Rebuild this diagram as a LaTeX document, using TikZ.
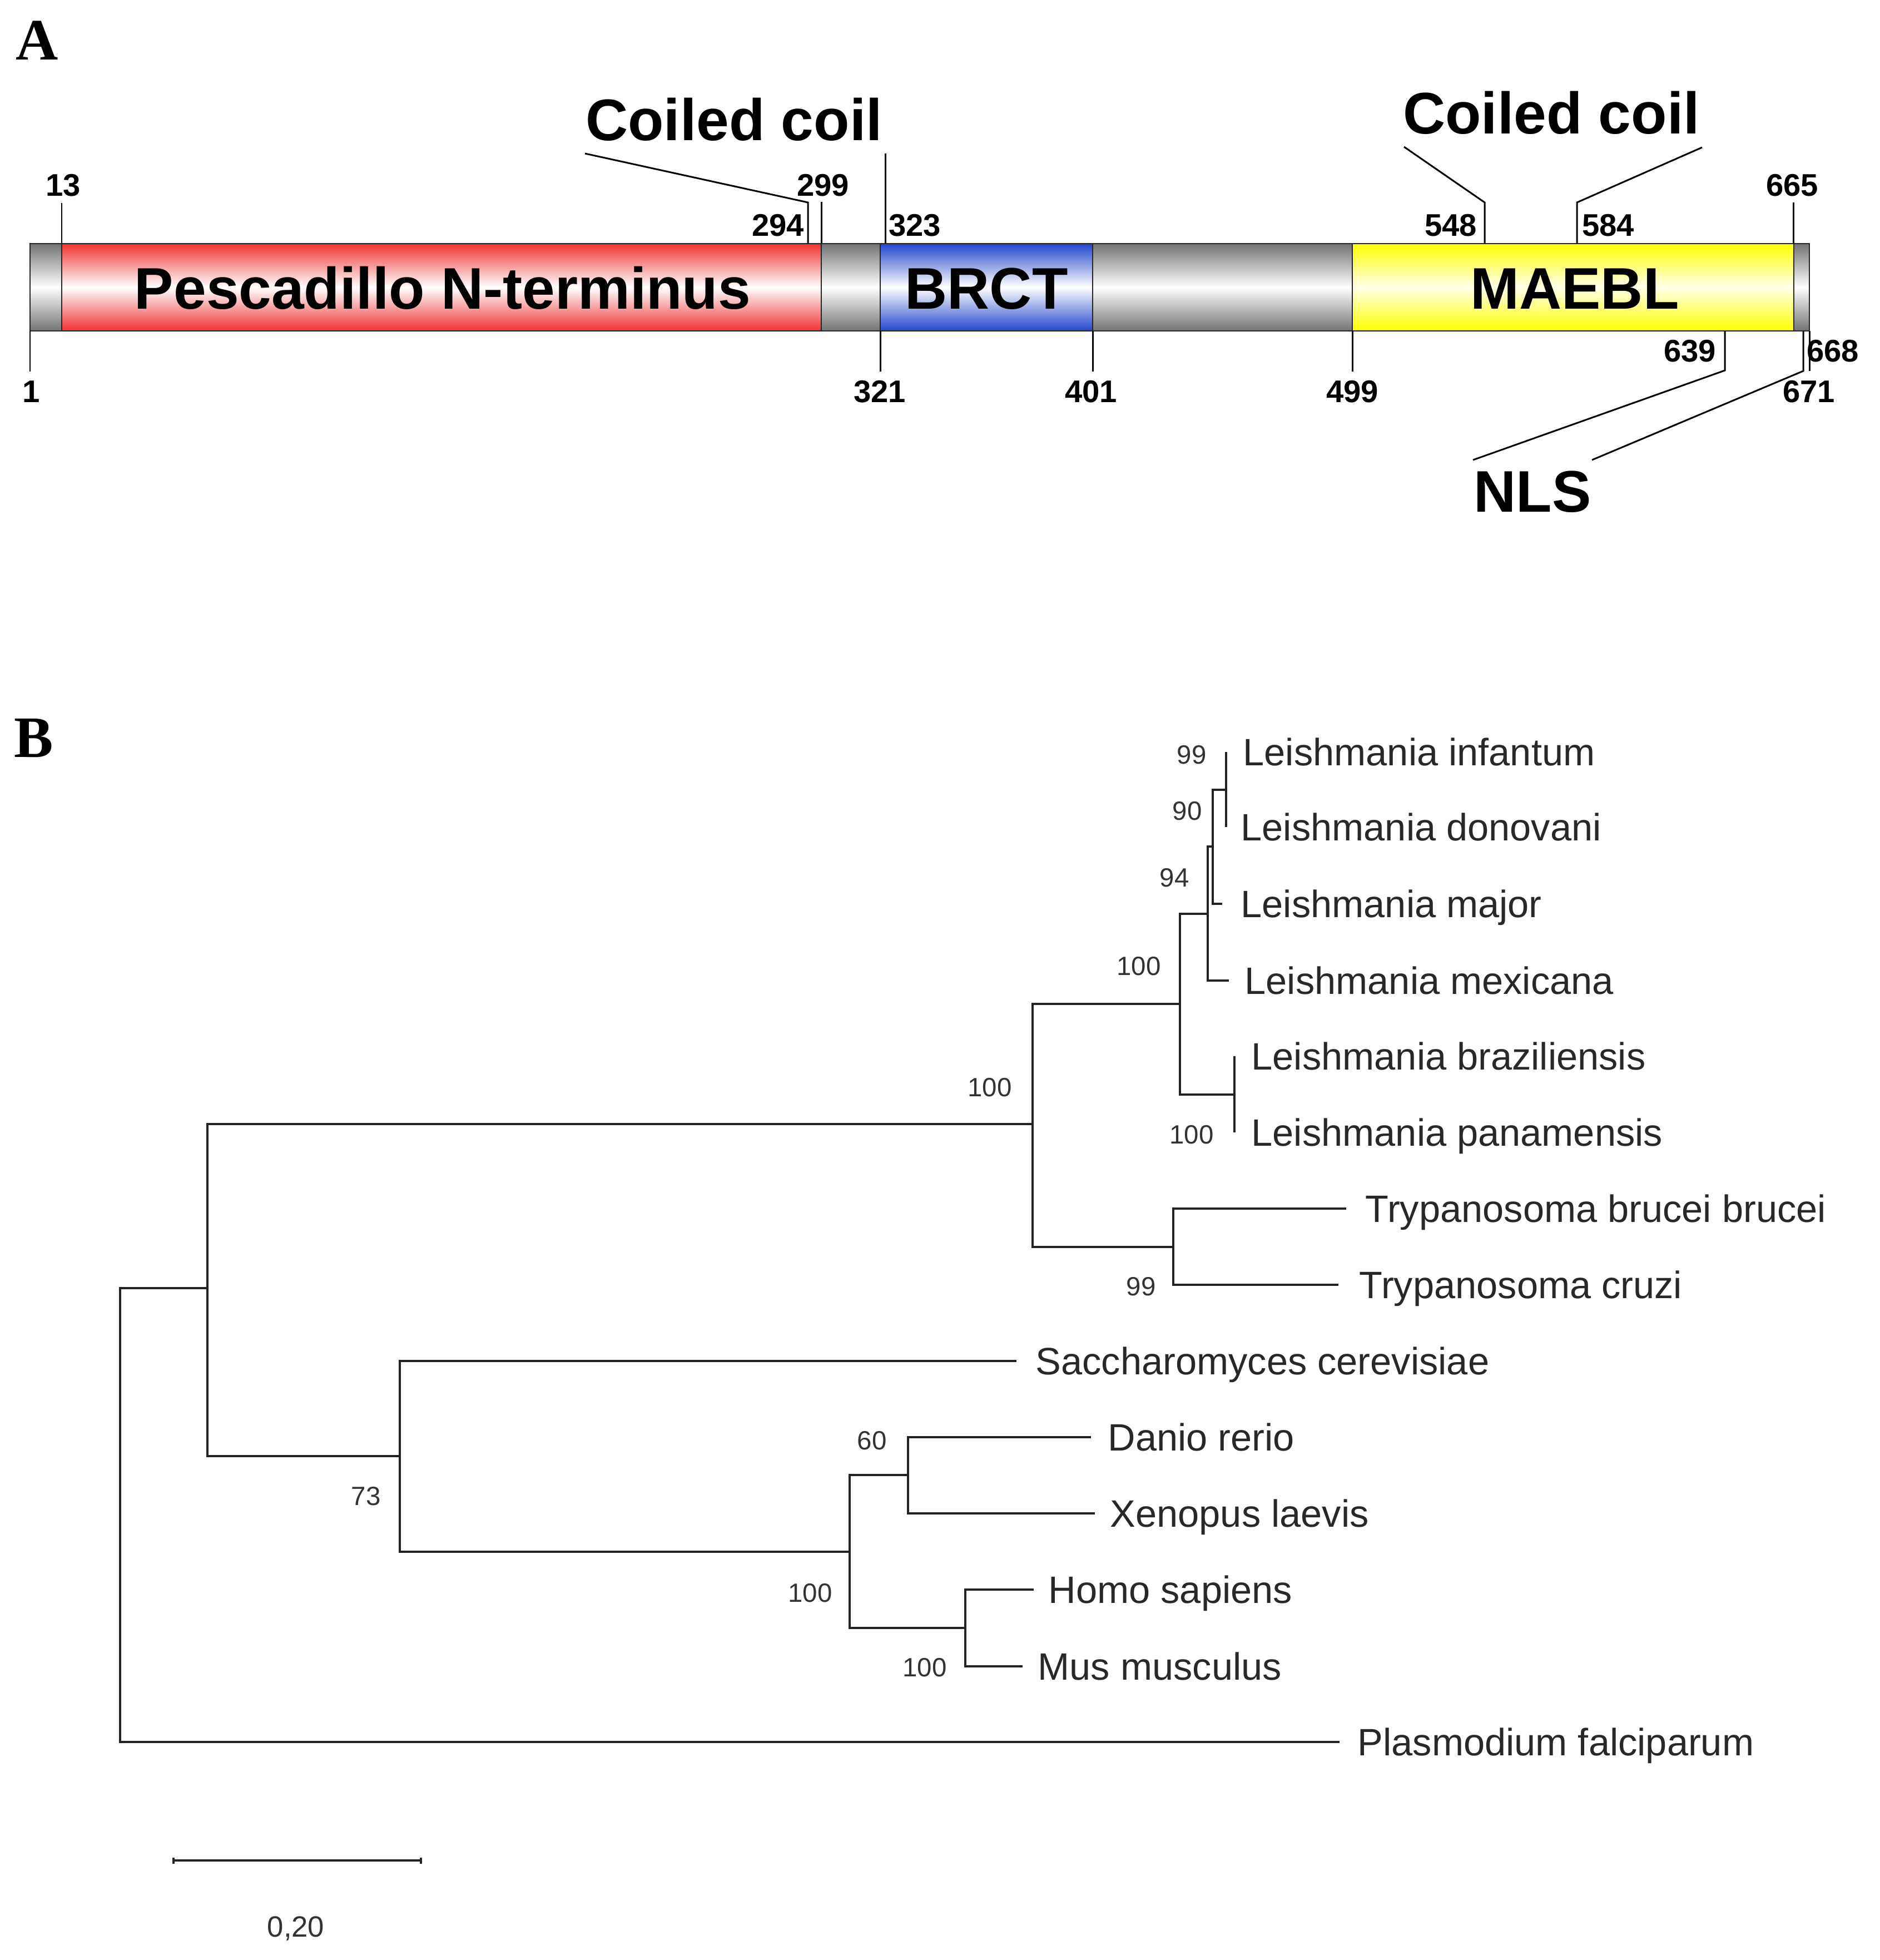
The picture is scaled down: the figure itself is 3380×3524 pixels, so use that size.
\documentclass[tikz,border=0pt]{standalone}
\usepackage{fontspec}
\setmainfont{Liberation Sans}
\newfontfamily\panelfont{Liberation Serif}
\definecolor{segred}{RGB}{240,50,50}
\definecolor{seggray}{RGB}{115,115,115}
\definecolor{segblue}{RGB}{34,70,205}
\definecolor{segyellow}{RGB}{255,255,0}
\definecolor{treeline}{RGB}{35,35,35}
\definecolor{treetext}{RGB}{40,40,40}
\tikzset{
  seg/.style={draw=black!85, line width=0.8pt},
  lead/.style={draw=black, line width=0.85pt},
  panel/.style={font=\panelfont\bfseries\fontsize{30}{31}\selectfont, inner sep=0pt, text height=20pt, text depth=0pt},
  big/.style={font=\bfseries\fontsize{30}{31}\selectfont, inner sep=0pt, text height=21.5pt, text depth=0pt},
  num/.style={font=\bfseries\fontsize{16}{17}\selectfont, inner sep=0pt, text height=11.5pt, text depth=0pt},
  leaf/.style={font=\fontsize{19.5}{20}\selectfont, text=treetext, anchor=west, inner sep=0pt, text height=14pt, text depth=0pt},
  boot/.style={font=\fontsize{13.5}{14}\selectfont, text=black!80, inner sep=0pt, text height=9.6pt, text depth=0pt},
  branch/.style={draw=treeline, line width=1.25pt},
}
\begin{document}
\begin{tikzpicture}[x=0.01cm,y=-0.01cm]
\useasboundingbox (0,0) rectangle (3380,3524);

% ---------------- Panel labels
\node[panel] (lblA) at (67,72) {A};
\node[panel] (lblB) at (61,1326) {B};

% ---------------- Panel A: domain bar
\shadedraw[seg, top color=seggray, bottom color=seggray, middle color=white] (54,438) rectangle (111,595);
\shadedraw[seg, top color=segred, bottom color=segred, middle color=white] (111,438) rectangle (1477,595);
\shadedraw[seg, top color=seggray, bottom color=seggray, middle color=white] (1477,438) rectangle (1583,595);
\shadedraw[seg, top color=segblue, bottom color=segblue, middle color=white] (1583,438) rectangle (1965,595);
\shadedraw[seg, top color=seggray, bottom color=seggray, middle color=white] (1965,438) rectangle (2432,595);
\shadedraw[seg, top color=segyellow, bottom color=segyellow, middle color=yellow!8] (2432,438) rectangle (3226,595);
\shadedraw[seg, top color=seggray, bottom color=seggray, middle color=white] (3226,438) rectangle (3254,595);

\node[big] (pesc) at (796,518) {Pescadillo N-terminus};
\node[big] (brct) at (1774,518) {BRCT};
\node[big] (maebl) at (2832,518) {MAEBL};

% top lead lines
\coordinate (b13) at (111,438);  \coordinate (e13) at (111,365);
\coordinate (b294) at (1453,438); \coordinate (k294) at (1453,364); \coordinate (c1a) at (1052,276);
\coordinate (b299) at (1477,438); \coordinate (e299) at (1477,363);
\coordinate (b323) at (1592,438); \coordinate (c1b) at (1592,276);
\coordinate (b548) at (2670,438); \coordinate (k548) at (2670,364); \coordinate (c2a) at (2525,264);
\coordinate (b584) at (2836,438); \coordinate (k584) at (2836,364); \coordinate (c2b) at (3061,265);
\coordinate (b665) at (3225,438); \coordinate (e665) at (3225,364);
\draw[lead] (b13) -- (e13);
\draw[lead] (b294) -- (k294) -- (c1a);
\draw[lead] (b299) -- (e299);
\draw[lead] (b323) -- (c1b);
\draw[lead] (b548) -- (k548) -- (c2a);
\draw[lead] (b584) -- (k584) -- (c2b);
\draw[lead] (b665) -- (e665);

% bottom lead lines
\coordinate (b1) at (54,595);     \coordinate (e1) at (54,668);
\coordinate (b321) at (1583,595); \coordinate (e321) at (1583,668);
\coordinate (b401) at (1965,595); \coordinate (e401) at (1965,668);
\coordinate (b499) at (2432,595); \coordinate (e499) at (2432,668);
\coordinate (b639) at (3102,595); \coordinate (k639) at (3102,666); \coordinate (na) at (2649,827);
\coordinate (b668) at (3243,595); \coordinate (k668) at (3243,667); \coordinate (nb) at (2863,827);
\coordinate (b671) at (3254,595); \coordinate (e671) at (3254,667);
\draw[lead] (b1) -- (e1);
\draw[lead] (b321) -- (e321);
\draw[lead] (b401) -- (e401);
\draw[lead] (b499) -- (e499);
\draw[lead] (b639) -- (k639) -- (na);
\draw[lead] (b668) -- (k668) -- (nb);
\draw[lead] (b671) -- (e671);

% labels panel A
\node[big] (cc1) at (1320,215) {Coiled coil};
\node[big] (cc2) at (2790,203) {Coiled coil};
\node[big] (nls) at (2756,883) {NLS};
\node[num] (l13) at (114,332) {13};
\node[num] (l299) at (1480,332) {299};
\node[num] (l294) at (1399,404) {294};
\node[num] (l323) at (1645,404) {323};
\node[num] (l548) at (2609,404) {548};
\node[num] (l584) at (2892,404) {584};
\node[num] (l665) at (3223,332) {665};
\node[num] (l1) at (56,703) {1};
\node[num] (l321) at (1582,703) {321};
\node[num] (l401) at (1962,703) {401};
\node[num] (l499) at (2432,703) {499};
\node[num] (l639) at (3039,630) {639};
\node[num] (l668) at (3296,630) {668};
\node[num] (l671) at (3253,703) {671};

% ---------------- Panel B: tree
% tips
\coordinate (tInf) at (2205,1352);
\coordinate (tDon) at (2205,1487);
\coordinate (tMaj) at (2198,1625);
\coordinate (tMex) at (2210,1763);
\coordinate (tBra) at (2220,1899);
\coordinate (tPan) at (2220,2036);
\coordinate (tBru) at (2421,2173);
\coordinate (tCru) at (2407,2310);
\coordinate (tSac) at (1828,2447);
\coordinate (tDan) at (1962,2584);
\coordinate (tXen) at (1969,2721);
\coordinate (tHom) at (1859,2858);
\coordinate (tMus) at (1839,2996);
\coordinate (tPla) at (2409,3132);
% internal nodes
\coordinate (n12) at (2205,1420);
\coordinate (n123) at (2181,1522);
\coordinate (n1234) at (2172,1643);
\coordinate (n56) at (2220,1968);
\coordinate (nL) at (2122,1805);
\coordinate (nT) at (2110,2242);
\coordinate (nLT) at (1857,2021);
\coordinate (nDX) at (1633,2652);
\coordinate (nHM) at (1736,2927);
\coordinate (nV) at (1528,2790);
\coordinate (nSV) at (719,2618);
\coordinate (nA) at (373,2316);
\coordinate (root) at (216,2724);

\draw[branch] (n12) |- (tInf);
\draw[branch] (n12) |- (tDon);
\draw[branch] (n123) |- (n12);
\draw[branch] (n123) |- (tMaj);
\draw[branch] (n1234) |- (n123);
\draw[branch] (n1234) |- (tMex);
\draw[branch] (n56) |- (tBra);
\draw[branch] (n56) |- (tPan);
\draw[branch] (nL) |- (n1234);
\draw[branch] (nL) |- (n56);
\draw[branch] (nT) |- (tBru);
\draw[branch] (nT) |- (tCru);
\draw[branch] (nLT) |- (nL);
\draw[branch] (nLT) |- (nT);
\draw[branch] (nDX) |- (tDan);
\draw[branch] (nDX) |- (tXen);
\draw[branch] (nHM) |- (tHom);
\draw[branch] (nHM) |- (tMus);
\draw[branch] (nV) |- (nDX);
\draw[branch] (nV) |- (nHM);
\draw[branch] (nSV) |- (tSac);
\draw[branch] (nSV) |- (nV);
\draw[branch] (nA) |- (nLT);
\draw[branch] (nA) |- (nSV);
\draw[branch] (root) |- (nA);
\draw[branch] (root) |- (tPla);

% leaf labels
\node[leaf] (sInf) at (2235,1352) {Leishmania infantum};
\node[leaf] (sDon) at (2231,1487) {Leishmania donovani};
\node[leaf] (sMaj) at (2231,1625) {Leishmania major};
\node[leaf] (sMex) at (2238,1763) {Leishmania mexicana};
\node[leaf] (sBra) at (2250,1899) {Leishmania braziliensis};
\node[leaf] (sPan) at (2250,2036) {Leishmania panamensis};
\node[leaf] (sBru) at (2455,2173) {Trypanosoma brucei brucei};
\node[leaf] (sCru) at (2444,2310) {Trypanosoma cruzi};
\node[leaf] (sSac) at (1862,2447) {Saccharomyces cerevisiae};
\node[leaf] (sDan) at (1992,2584) {Danio rerio};
\node[leaf] (sXen) at (1996,2721) {Xenopus laevis};
\node[leaf] (sHom) at (1885,2858) {Homo sapiens};
\node[leaf] (sMus) at (1866,2996) {Mus musculus};
\node[leaf] (sPla) at (2441,3132) {Plasmodium falciparum};

% bootstrap values
\node[boot] (bs12) at (2143,1357) {99};
\node[boot] (bs123) at (2135,1458) {90};
\node[boot] (bs1234) at (2112,1578) {94};
\node[boot] (bsL) at (2048,1737) {100};
\node[boot] (bs56) at (2143,2040) {100};
\node[boot] (bsLT) at (1780,1955) {100};
\node[boot] (bsT) at (2052,2313) {99};
\node[boot] (bsSV) at (658,2690) {73};
\node[boot] (bsDX) at (1568,2590) {60};
\node[boot] (bsV) at (1457,2864) {100};
\node[boot] (bsHM) at (1663,2998) {100};

% scale bar
\coordinate (sbL) at (312,3345);
\coordinate (sbR) at (757,3345);
\draw[branch] (sbL) -- (sbR);
\draw[branch] ([yshift=0.55mm]sbL) -- ([yshift=-0.55mm]sbL);
\draw[branch] ([yshift=0.55mm]sbR) -- ([yshift=-0.55mm]sbR);
\node[font=\fontsize{15}{16}\selectfont, text=black!80, inner sep=0pt, text height=10.8pt, text depth=0pt] (sblabel) at (532,3463) {0,20};
\end{tikzpicture}
\end{document}
